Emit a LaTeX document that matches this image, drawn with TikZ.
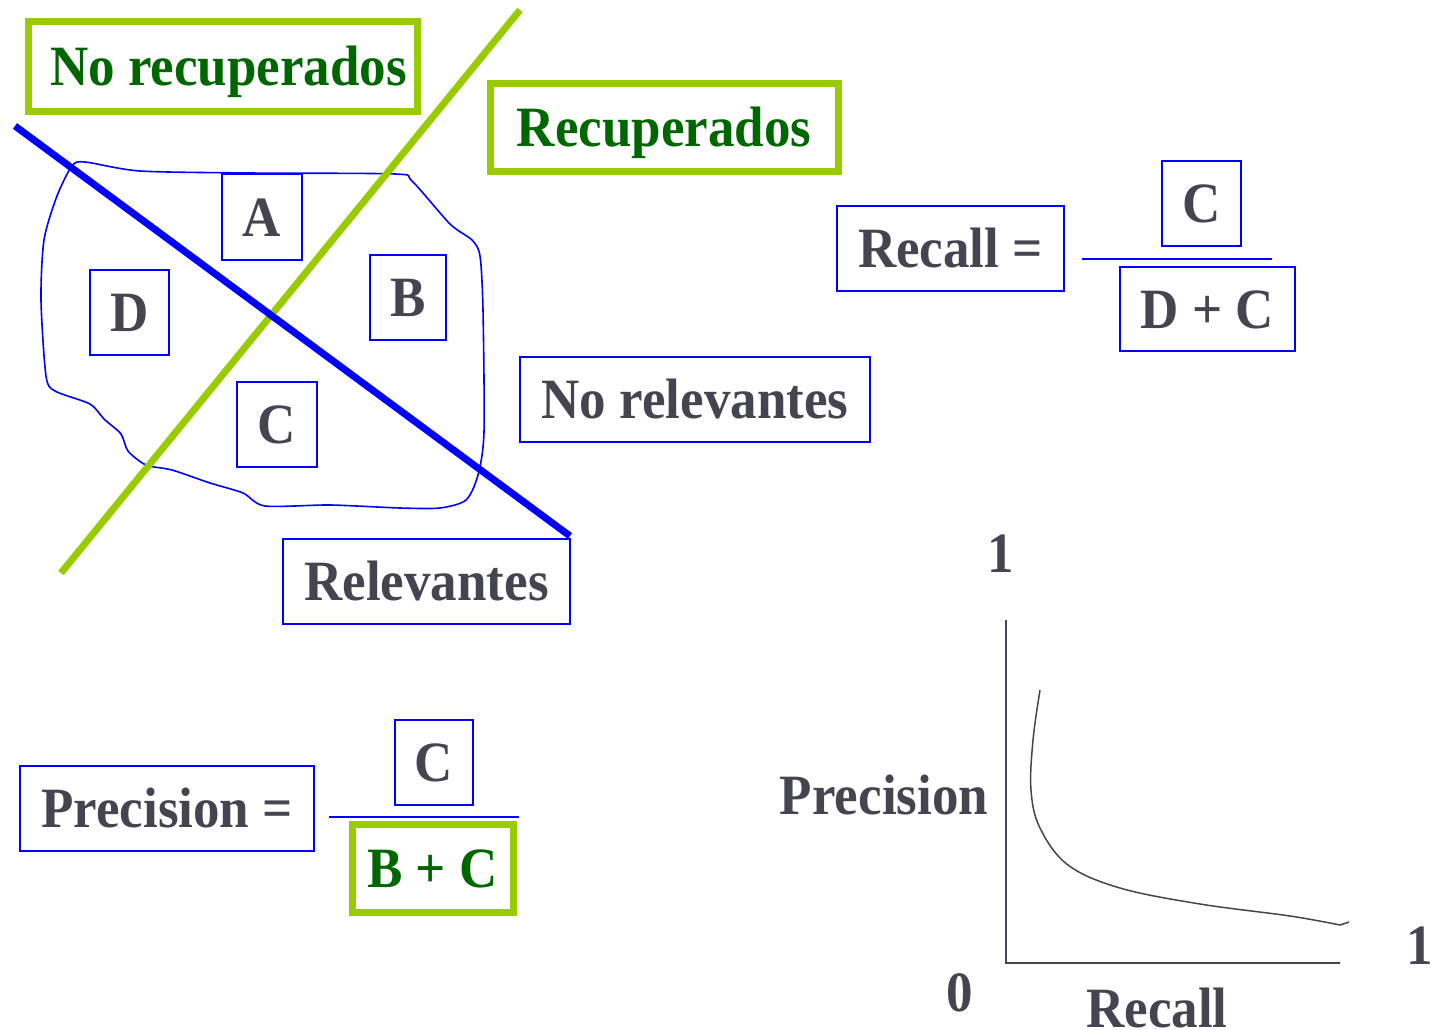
\documentclass[tikz,border=0pt]{standalone}
\usepackage{fontspec}
\setmainfont{Liberation Serif}[FakeStretch=0.93]
\usetikzlibrary{positioning}

\definecolor{txtgray}{HTML}{454552}
\definecolor{darkgreen}{HTML}{006600}
\definecolor{lime}{HTML}{99CC00}
\definecolor{pureblue}{HTML}{0000FF}

\newcommand{\bigtxt}{\fontsize{57}{60}\selectfont\bfseries}

\tikzset{
  bluebox/.style={draw=pureblue, line width=2pt, inner sep=0pt, align=center,
    text=txtgray, font=\bigtxt, text height=44pt, text depth=6pt},
  greenbox/.style={draw=lime, line width=7pt, inner sep=0pt, align=center,
    text=darkgreen, font=\bigtxt, text height=44pt, text depth=6pt},
  lbl/.style={text=txtgray, font=\bigtxt, inner sep=0pt, text height=44pt, text depth=6pt},
  axis/.style={draw=txtgray, line width=1.5pt}
}

\begin{document}
\begin{tikzpicture}[x=1pt, y=-1pt]
    \useasboundingbox (0,0) rectangle (1441,1030);

    % the set of documents
    \draw[pureblue, line width=1.6pt] plot[smooth cycle, tension=0.45] coordinates {
      (72,166) (85,162) (140,171) (250,173) (395,174) (412,181) (450,224)
      (472,240) (480,256) (483,310) (484,432) (478,475) (466,500) (440,508)
      (400,508) (330,505) (265,506) (243,493) (210,483) (172,470) (146,465)
      (128,451) (121,434) (104,419) (90,404) (55,391) (46,376) (41,300)
      (44,240) (57,196)};

    % cut lines
    \coordinate (gtop) at (520,10);
    \coordinate (gbot) at (61,573);
    \coordinate (btop) at (15,126);
    \coordinate (bbot) at (570,536);
    \draw[lime, line width=7pt] (gbot) -- (gtop);
    \draw[pureblue, line width=7pt] (btop) -- (bbot);

    % labels of the two cuts
    \node[greenbox, minimum width=389, minimum height=90] (norec) at (222.5,67) {\hspace*{12pt}No recuperados};
    \node[greenbox, minimum width=348, minimum height=88] (rec) at (664,128) {Recuperados};
    \node[bluebox, minimum width=350, minimum height=85] (norel) at (695,399.5) {No relevantes};
    \node[bluebox, minimum width=287, minimum height=85] (rel) at (426.5,581.5) {Relevantes};

    % the four regions
    \node[bluebox, minimum width=80, minimum height=86] (ra) at (262,217) {A};
    \node[bluebox, minimum width=79, minimum height=85] (rd) at (129.5,312.5) {D};
    \node[bluebox, minimum width=76, minimum height=85] (rb) at (408,297.5) {B};
    \node[bluebox, minimum width=80, minimum height=85] (rc) at (277,424.5) {C};

    % recall
    \node[bluebox, minimum width=227, minimum height=85] (recall) at (950.5,248.5) {Recall =};
    \node[bluebox, minimum width=79, minimum height=85] (recnum) at (1201.5,203.5) {C};
    \node[bluebox, minimum width=175, minimum height=84] (recden) at (1207.5,309) {D + C};
    \coordinate (recl) at (1082,259);
    \coordinate (recr) at (1272,259);
    \draw[pureblue, line width=2pt] (recl) -- (recr);

    % precision
    \node[bluebox, minimum width=294, minimum height=85] (prec) at (167,808.5) {Precision =};
    \node[bluebox, minimum width=78, minimum height=85] (precnum) at (434,762.5) {C};
    \node[greenbox, minimum width=161, minimum height=88] (precden) at (432.5,868) {B + C};
    \coordinate (precl) at (329,817);
    \coordinate (precr) at (519,817);
    \draw[pureblue, line width=2pt] (precl) -- (precr);

    % precision / recall curve
    \coordinate (orig) at (1006,963);
    \coordinate (ytop) at (1006,620);
    \coordinate (xend) at (1340,963);
    \draw[axis] (ytop) -- (orig) -- (xend);
    \node[lbl] (yone) at (1001,553) {1};
    \node[lbl] (xone) at (1420,945) {1};
    \node[lbl] (zero) at (960,992) {0};
    \node[lbl] (ylab) at (884,795) {Precision};
    \node[lbl] (xlab) at (1157,1008) {Recall};
    \draw[txtgray, line width=1.5pt] plot[smooth, tension=0.6] coordinates {
      (1040,690) (1033,740) (1031,790) (1040,828) (1068,865) (1120,888)
      (1200,904) (1290,916) (1340,925)} -- (1349,922);
  \end{tikzpicture}
\end{document}
